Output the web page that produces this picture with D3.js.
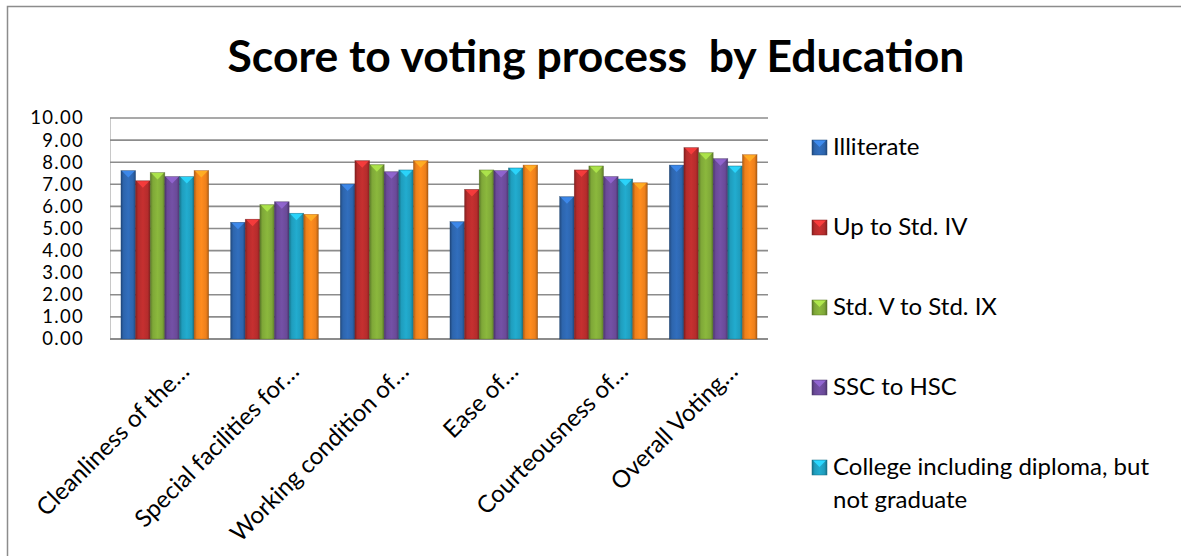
<!DOCTYPE html>
<html>
<head>
<meta charset="utf-8">
<script src="https://cdn.jsdelivr.net/npm/d3@7/dist/d3.min.js"></script>
<style>
  html, body { margin: 0; padding: 0; background: #fff; overflow: hidden; }
  svg { display: block; font-family: "Lato", "Open Sans", sans-serif; }
</style>
</head>
<body>
<svg id="chart" width="1181" height="556"></svg>
<script>
// ---- data ----
const titleText = "Score to voting process  by Education";
const categories = ["Cleanliness of the…", "Special facilities for…", "Working condition of…", "Ease of…", "Courteousness of…", "Overall Voting…"];
const seriesNames = ["Illiterate", "Up to Std. IV", "Std. V to Std. IX", "SSC to HSC", "College including diploma, but not graduate", "Graduate and above"];
const illiterate = [7.62, 5.28, 7.01, 5.31, 6.44, 7.87];
const upToStdIV  = [7.16, 5.42, 8.07, 6.77, 7.65, 8.66];
const stdVtoIX   = [7.53, 6.08, 7.89, 7.65, 7.83, 8.43];
const sscToHsc   = [7.35, 6.21, 7.57, 7.62, 7.35, 8.16];
const college    = [7.35, 5.69, 7.65, 7.74, 7.24, 7.83];
const graduate   = [7.62, 5.64, 8.07, 7.87, 7.07, 8.34];
const yTicks = [0, 1, 2, 3, 4, 5, 6, 7, 8, 9, 10];
// legend in the reference is clipped: only the first five entries are visible
const visibleLegendCount = 5;

const seriesValues = [illiterate, upToStdIV, stdVtoIX, sscToHsc, college, graduate];
const baseColors = ["#2d65ad", "#b52c2c", "#7fa838", "#6a4a98", "#1f9dbd", "#ee801b"];

const svg = d3.select("#chart");

// outer chart border (extends beyond the visible area on right & bottom)
svg.append("rect").attr("x", 7.5).attr("y", 6.5).attr("width", 1300).attr("height", 700)
  .attr("fill", "#fff").attr("stroke", "#8c8c8c").attr("stroke-width", 1.5);

// gradients
const defs = svg.append("defs");
baseColors.forEach((c, i) => {
  const base = d3.color(c);
  const g = defs.append("linearGradient").attr("id", "g" + i).attr("x1", "0%").attr("x2", "100%").attr("y1", "0%").attr("y2", "0%");
  g.append("stop").attr("offset", "0%").attr("stop-color", base.darker(0.9));
  g.append("stop").attr("offset", "18%").attr("stop-color", base);
  g.append("stop").attr("offset", "50%").attr("stop-color", base.brighter(0.25));
  g.append("stop").attr("offset", "82%").attr("stop-color", base);
  g.append("stop").attr("offset", "100%").attr("stop-color", base.darker(0.9));
});

// scales
const x0 = d3.scaleBand().domain(categories).range([110, 768]).paddingInner(0.2).paddingOuter(0.1);
const x1 = d3.scaleBand().domain(d3.range(seriesNames.length)).range([0, x0.bandwidth()]).padding(0);
const y = d3.scaleLinear().domain([0, 10]).range([339, 118]);

// plot area left edge
svg.append("line").attr("x1", 110.5).attr("x2", 110.5).attr("y1", y(10)).attr("y2", y(0))
  .attr("stroke", "#c8c8c8").attr("stroke-width", 1);

// gridlines
svg.append("g").selectAll("line").data(yTicks).join("line")
  .attr("x1", 110).attr("x2", 768)
  .attr("y1", d => y(d)).attr("y2", d => y(d))
  .attr("stroke", "#8c8c8c").attr("stroke-width", d => d === 0 ? 2 : 1.6);

// y axis labels via d3 axis
const yAxis = svg.append("g").attr("transform", "translate(86,0)")
  .call(d3.axisLeft(y).tickValues(yTicks).tickFormat(d3.format(".2f")).tickSize(0).tickPadding(2));
yAxis.select(".domain").remove();
yAxis.selectAll("text").attr("fill", "#000")
  .style("font-family", "Lato, sans-serif").style("font-size", "18.5px").style("letter-spacing", "1.3px");

// bars
const groups = svg.append("g").selectAll("g").data(categories).join("g")
  .attr("transform", d => `translate(${x0(d)},0)`);
groups.each(function(cat, ci) {
  const g = d3.select(this);
  seriesValues.forEach((vals, si) => {
    const v = vals[ci];
    const bx = x1(si), bw = x1.bandwidth();
    const top = y(v), bot = y(0);
    g.append("rect").attr("x", bx).attr("y", top).attr("width", bw).attr("height", bot - top)
      .attr("fill", `url(#g${si})`).attr("stroke", d3.color(baseColors[si]).darker(1.2)).attr("stroke-width", 0.6).attr("stroke-opacity", 0.6);
    // bevel top triangle
    const tri = `M${bx + 1},${top + 0.5} L${bx + bw - 1},${top + 0.5} L${bx + bw / 2},${top + 7} Z`;
    g.append("path").attr("d", tri).attr("fill", d3.color(baseColors[si]).brighter(0.9)).attr("opacity", 0.9);
  });
});

// x labels
const xl = svg.append("g");
xl.selectAll("text").data(categories).join("text")
  .attr("text-anchor", "end")
  .attr("transform", d => `translate(${x0(d) + x0.bandwidth() / 2 + 26},${373}) rotate(-45)`)
  .attr("fill", "#000")
  .style("font-size", "24px")
  .text(d => d);

// title
const title = svg.append("text").attr("x", 596).attr("y", 72).attr("text-anchor", "middle")
  .style("font-weight", "bold").style("font-size", "40px").attr("fill", "#000")
  .attr("xml:space", "preserve").style("white-space", "pre").text(titleText);
{
  const w = title.node().getComputedTextLength();
  title.style("font-size", (40 * 737 / w) + "px");
}

// legend
const legend = svg.append("g");
const legendFs = 24;
seriesNames.slice(0, visibleLegendCount).forEach((name, i) => {
  const by = 155 + 80 * i;
  const gi = legend.append("g");
  const mc = d3.color(baseColors[i]);
  gi.append("rect").attr("x", 812).attr("y", by - 15).attr("width", 15).attr("height", 15)
    .attr("fill", `url(#g${i})`).attr("stroke", mc.darker(1)).attr("stroke-width", 0.5);
  gi.append("path").attr("d", `M813,${by - 14.5} L826,${by - 14.5} L819.5,${by - 8} Z`).attr("fill", mc.brighter(0.9));
  const t = gi.append("text").attr("x", 833).attr("y", by).style("font-size", legendFs + "px").attr("fill", "#000");
  const words = name.split(" ");
  let line = [], lineNo = 0;
  let tspan = t.append("tspan").attr("x", 833).attr("y", by);
  words.forEach(wd => {
    line.push(wd);
    tspan.text(line.join(" "));
    if (tspan.node().getComputedTextLength() > 340 && line.length > 1) {
      line.pop();
      tspan.text(line.join(" "));
      line = [wd];
      lineNo++;
      tspan = t.append("tspan").attr("x", 833).attr("y", by + lineNo * 33).text(wd);
    }
  });
});
</script>
</body>
</html>
